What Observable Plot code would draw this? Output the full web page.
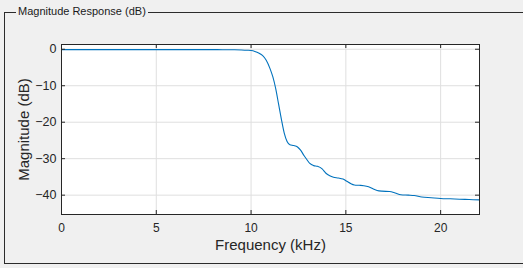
<!DOCTYPE html>
<html><head><meta charset="utf-8">
<script src="https://cdn.jsdelivr.net/npm/d3@7"></script>
<script src="https://cdn.jsdelivr.net/npm/@observablehq/plot@0.6"></script>
<style>
html,body{margin:0;padding:0;background:#f0f0f0;overflow:hidden;}
#wrap{position:relative;width:523px;height:268px;overflow:hidden;background:#f0f0f0;font-family:"Liberation Sans",Arial,sans-serif;}
#panel{position:absolute;left:4px;top:12px;width:700px;height:250px;border:1px solid #2b2b2b;}
#ptitle{position:absolute;left:16px;top:4px;padding:0 2px;background:#f0f0f0;font-size:11px;line-height:14px;color:#1a1a1a;z-index:2;white-space:nowrap;}
#chart{position:absolute;left:0;top:0;z-index:1;}
</style></head>
<body>
<div id="wrap">
  <div id="panel"></div>
  <div id="ptitle">Magnitude Response (dB)</div>
  <div id="chart"></div>
</div>
<script>
const freq = [0,1,2,3,4,5,6,7,8,8.5,9,9.5,9.8,10.0,10.2,10.4,10.6,10.8,11.0,11.15,11.3,11.45,11.6,11.75,11.9,12.05,12.25,12.45,12.6,12.8,12.95,13.1,13.3,13.5,13.75,13.95,14.15,14.35,14.6,14.85,15.05,15.25,15.45,15.7,15.95,16.2,16.45,16.65,16.9,17.3,17.6,17.9,18.3,18.6,19.0,19.5,20.0,20.5,21.0,21.5,22.05];
const mag = [-0.1,-0.1,-0.1,-0.1,-0.1,-0.1,-0.1,-0.1,-0.1,-0.12,-0.15,-0.2,-0.28,-0.36,-0.6,-1.0,-1.7,-3.0,-5.3,-7.6,-10.8,-15,-19.2,-23.0,-25.3,-26.2,-26.4,-26.8,-27.6,-29.2,-30.3,-31.3,-31.9,-32.1,-32.8,-34.0,-34.7,-35.1,-35.3,-35.6,-36.2,-36.8,-37.2,-37.3,-37.4,-37.7,-38.3,-38.7,-38.9,-39.0,-39.4,-39.9,-40.0,-40.1,-40.5,-40.7,-40.9,-41.0,-41.1,-41.2,-41.3];
const xTicks = [0,5,10,15,20];
const yTicks = [0,-10,-20,-30,-40];
const xLabel = "Frequency (kHz)";
const yLabel = "Magnitude (dB)";

const data = freq.map((f, i) => ({f, m: mag[i]}));
const W = 523, H = 268, mL = 61, mR = 44, mT = 44, mB = 54;
const plotW = W - mL - mR, plotH = H - mT - mB;
const tick = 4;
const ink = "#262626";

const chart = Plot.plot({
  width: W, height: H,
  marginLeft: mL, marginRight: mR, marginTop: mT, marginBottom: mB,
  style: {background: "transparent", fontFamily: "Liberation Sans, Arial, sans-serif", fontSize: "12px", color: ink},
  x: {domain: [0, 22.05], label: null},
  y: {domain: [-45.3, 1.3], label: null},
  marks: [
    Plot.frame({fill: "white"}),
    Plot.gridX(xTicks, {stroke: "#dfdfdf", strokeOpacity: 1}),
    Plot.gridY(yTicks, {stroke: "#dfdfdf", strokeOpacity: 1}),
    Plot.line(data, {x: "f", y: "m", stroke: "#0072bd", strokeWidth: 1.1, curve: "monotone-x"}),
    Plot.frame({stroke: ink}),
    Plot.tickX(xTicks, {x: d => d, stroke: ink, insetTop: plotH - tick}),
    Plot.tickX(xTicks, {x: d => d, stroke: ink, insetBottom: plotH - tick}),
    Plot.tickY(yTicks, {y: d => d, stroke: ink, insetLeft: plotW - tick}),
    Plot.tickY(yTicks, {y: d => d, stroke: ink, insetRight: plotW - tick}),
    Plot.axisX(xTicks, {tickSize: 0, tickPadding: 9, label: null, fontSize: 12, fill: ink}),
    Plot.axisY(yTicks, {tickSize: 0, tickPadding: 5, label: null, fontSize: 12.5, fill: ink}),
    Plot.text([xLabel], {text: d => d, frameAnchor: "bottom", dy: 25, lineAnchor: "top", fontSize: 15, fill: ink}),
    Plot.text([yLabel], {text: d => d, frameAnchor: "left", dx: -37, rotate: -90, textAnchor: "middle", lineAnchor: "middle", fontSize: 15, fill: ink})
  ]
});
document.getElementById("chart").appendChild(chart);
</script>
</body></html>
